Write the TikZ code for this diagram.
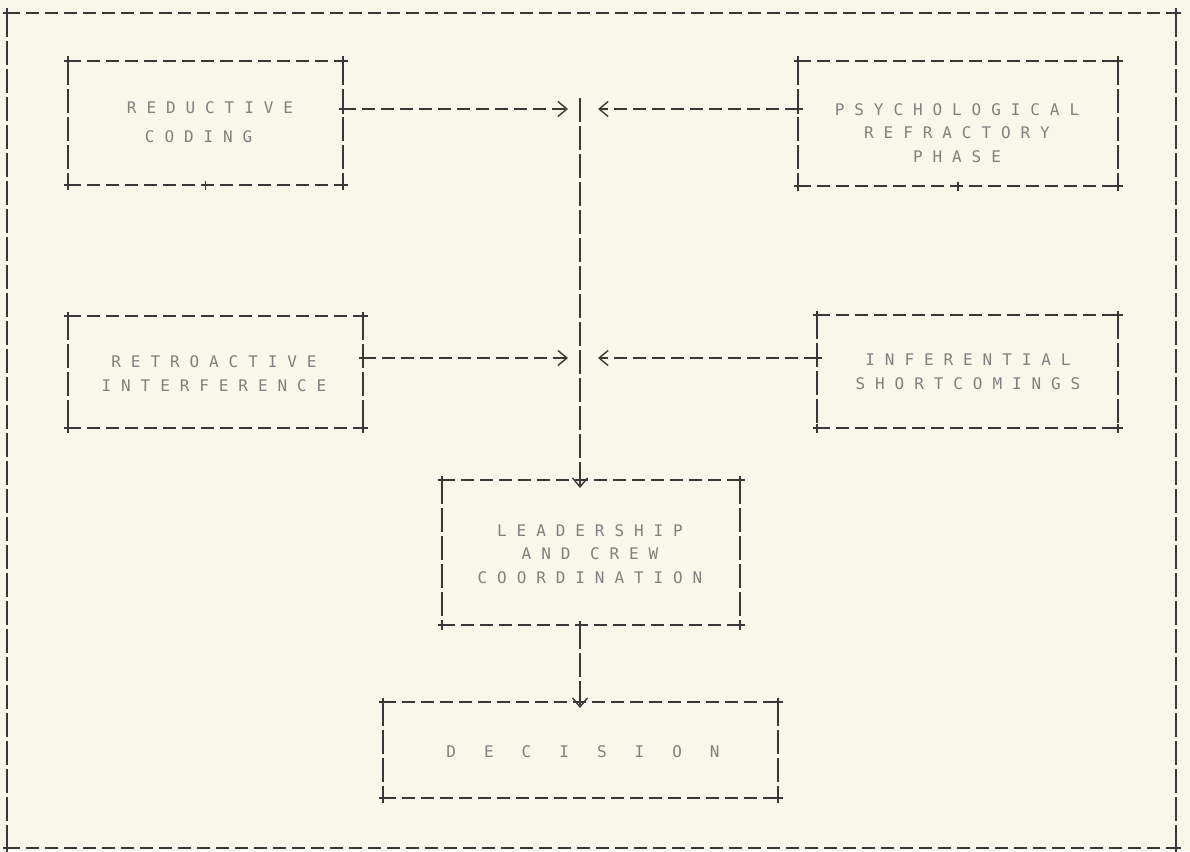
\documentclass[tikz,border=0pt]{standalone}
\usepackage{fontspec}
\usetikzlibrary{arrows.meta}
\newfontfamily\tw[LetterSpace=62]{DejaVu Sans Mono}
\definecolor{paper}{HTML}{F8F7EA}
\definecolor{ink}{HTML}{383838}
\definecolor{txt}{HTML}{808080}
\newcommand{\dsp}{\hspace{28pt}}
\tikzset{
  hdash/.style={draw=ink,line width=1.6pt,dash pattern=on 13pt off 6pt},
  vdash/.style={draw=ink,line width=1.4pt,dash pattern=on 24pt off 4pt},
  boxnode/.style={draw=none,inner sep=0pt,outer sep=0pt},
  lbl/.style={text=txt,font=\tw\fontsize{16}{23.5}\selectfont,align=center,inner sep=0pt},
  barb/.style={-{Straight Barb[length=9pt,width=15pt,line width=1.4pt]}},
  plusmark/.pic={\draw[ink,line width=1.8pt,solid] (-4.5,0)--(4.5,0) (0,-4.5)--(0,4.5);}
}
\newcommand{\tbox}[1]{%
  \draw[hdash] (#1.north west) -- (#1.north east);
  \draw[hdash] (#1.south west) -- (#1.south east);
  \draw[vdash] (#1.north west) -- (#1.south west);
  \draw[vdash] (#1.north east) -- (#1.south east);
  \pic at (#1.north west) {plusmark};
  \pic at (#1.north east) {plusmark};
  \pic at (#1.south west) {plusmark};
  \pic at (#1.south east) {plusmark};
}
\begin{document}
\begin{tikzpicture}[x=1pt,y=-1pt]
\fill[paper] (0,0) rectangle (1190,851);
\useasboundingbox (0,0) rectangle (1190,851);

% outer frame
\node[boxnode,minimum width=1169pt,minimum height=835pt] (frame) at (591.5,430.5) {};
\tbox{frame}

% boxes
\node[boxnode,minimum width=275pt,minimum height=124pt] (rc) at (205.5,123) {};
\node[boxnode,minimum width=320pt,minimum height=125pt] (prp) at (958,123.5) {};
\node[boxnode,minimum width=295pt,minimum height=112pt] (ri) at (215.5,372) {};
\node[boxnode,minimum width=301pt,minimum height=113pt] (is) at (967.5,371.5) {};
\node[boxnode,minimum width=298pt,minimum height=145pt] (lac) at (591,552.5) {};
\node[boxnode,minimum width=395pt,minimum height=96pt] (dec) at (580.5,750) {};
\tbox{rc}
\tbox{prp}
\tbox{ri}
\tbox{is}
\tbox{lac}
\tbox{dec}

% texts
\node[lbl,align=left] (rct) at (210,122) {REDUCTIVE\\[6pt]\hspace*{18pt}CODING};
\node[lbl] (prpt) at (957,133) {PSYCHOLOGICAL\\REFRACTORY\\PHASE};
\node[lbl] (rit) at (214,373.5) {RETROACTIVE\\INTERFERENCE};
\node[lbl] (ist) at (968,372) {INFERENTIAL\\SHORTCOMINGS};
\node[lbl] (lact) at (590,554) {LEADERSHIP\\AND CREW\\COORDINATION};
\node[lbl] (dect) at (583,752) {D\dsp E\dsp C\dsp I\dsp S\dsp I\dsp O\dsp N};

% junction coordinates
\coordinate (vtop) at (580,98);
\coordinate (j1w) at (568,109);
\coordinate (j1e) at (598,109);
\coordinate (j2w) at (568,358);
\coordinate (j2e) at (598,358);

% connectors
\draw[hdash,barb] (rc.east |- j1w) -- (j1w);
\draw[hdash,barb] (prp.west |- j1e) -- (j1e);
\draw[hdash,barb] (ri.east |- j2w) -- (j2w);
\draw[hdash,barb] (is.west |- j2e) -- (j2e);
\draw[vdash,barb,shorten >=-8pt] (vtop) -- (vtop |- lac.north);
\draw[vdash,barb,shorten >=-6pt] (vtop |- lac.south) -- (vtop |- dec.north);

% junction plus marks
\pic at (rc.east |- j1w) {plusmark};
\pic at (prp.west |- j1e) {plusmark};
\pic at (ri.east |- j2w) {plusmark};
\pic at (is.west |- j2e) {plusmark};
\pic at (rc.south) {plusmark};
\pic at (prp.south) {plusmark};
\pic at (vtop |- lac.south) {plusmark};
\end{tikzpicture}
\end{document}
